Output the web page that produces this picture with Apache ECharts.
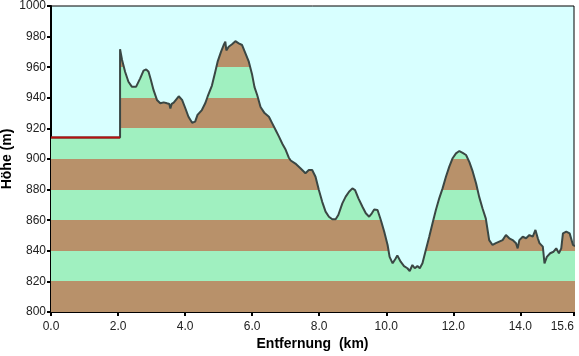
<!DOCTYPE html>
<html>
<head>
<meta charset="utf-8">
<script src="https://cdn.jsdelivr.net/npm/echarts@6/dist/echarts.min.js"></script>
<style>
html,body{margin:0;padding:0;background:#fff;}
#c{width:579px;height:356px;}
</style>
</head>
<body>
<div id="c"></div>
<script>
// Distance (km) and elevation (m) of the profile
const distKm = [0, 2.06, 2.06, 2.12, 2.21, 2.31, 2.41, 2.54, 2.66, 2.76, 2.84, 2.91, 2.98, 3.06, 3.16, 3.26, 3.36, 3.46, 3.53, 3.56, 3.6, 3.66, 3.81, 3.91, 4.01, 4.10, 4.21, 4.30, 4.37, 4.50, 4.60, 4.67, 4.80, 4.90, 4.97, 5.07, 5.15, 5.20, 5.23, 5.30, 5.40, 5.50, 5.60, 5.70, 5.80, 5.90, 6.00, 6.07, 6.15, 6.25, 6.37, 6.50, 6.60, 6.70, 6.80, 6.90, 7.00, 7.09, 7.15, 7.29, 7.44, 7.59, 7.69, 7.79, 7.89, 7.99, 8.09, 8.19, 8.29, 8.39, 8.49, 8.57, 8.69, 8.79, 8.89, 8.99, 9.07, 9.17, 9.29, 9.39, 9.49, 9.57, 9.64, 9.74, 9.84, 9.94, 10.04, 10.10, 10.19, 10.28, 10.33, 10.43, 10.53, 10.63, 10.70, 10.78, 10.85, 10.93, 11.00, 11.08, 11.18, 11.28, 11.38, 11.48, 11.58, 11.68, 11.78, 11.88, 11.98, 12.08, 12.18, 12.28, 12.38, 12.48, 12.58, 12.68, 12.77, 12.87, 12.97, 13.07, 13.17, 13.27, 13.37, 13.47, 13.57, 13.67, 13.77, 13.87, 13.92, 13.97, 14.07, 14.17, 14.27, 14.37, 14.45, 14.52, 14.57, 14.67, 14.72, 14.79, 14.89, 14.99, 15.07, 15.15, 15.22, 15.27, 15.37, 15.47, 15.57, 15.63];
const elevM = [914, 914, 971.7, 964.7, 957, 950.5, 947.3, 947.3, 952.7, 957.7, 958.6, 957, 951.6, 945, 938.6, 936.4, 937, 936.4, 936, 933, 936, 936.8, 941, 938.6, 933, 927.6, 923.7, 924.4, 928.8, 932, 936.4, 940.7, 948, 957, 963.6, 970, 974.5, 976.7, 971, 973.4, 975, 977, 975.6, 974.5, 969, 963.6, 955, 947, 941.8, 934, 930, 927.6, 923.3, 919, 914.6, 910, 906, 901, 899, 897, 894, 890.7, 892.8, 892.8, 888.4, 879.7, 872, 865.6, 862.3, 860.6, 860.6, 863.4, 871, 875.4, 878.6, 880.8, 879.7, 874.3, 868.8, 864.5, 862.3, 864.5, 867, 866.7, 860, 852.5, 843.8, 836, 831.8, 835, 837, 832.9, 830, 828.6, 826.8, 830.7, 828.6, 830, 828.6, 831.8, 840.5, 849, 858, 866.7, 874.3, 880.8, 888.4, 895, 900.5, 903.7, 905.2, 904, 902.6, 898, 891.7, 884, 875.4, 867.8, 861, 847, 843.8, 845, 846, 847, 850.3, 848.2, 847, 845, 841.6, 847, 849.2, 848.2, 850.3, 849.2, 853.6, 848.2, 845, 842.7, 831.8, 836, 838.4, 839.4, 841.6, 838.4, 841.6, 851.4, 852.5, 851.4, 843.8, 843];
// Start segment (no track data) drawn in red
const startKm = [0, 2.06];
const startM = [914, 914];

const yMin = 800, yMax = 1000, yStep = 20;
const xMin = 0, xMax = 15.6, xStep = 2;

const W = 579, H = 356;
const G = {left: 51, right: 5, top: 6, bottom: 44};
const plotTop = G.top, plotBottom = H - G.bottom;

const BROWN = '#b8916a', GREEN = '#a0f0c0';
// banded gradient from top (yMax) downwards; band 800-820 brown, 820-840 green, ...
const range = yMax - yMin;
const stops = [];
for (let v = yMax - yStep; v >= yMin; v -= yStep) {
  const idx = Math.round((v - yMin) / yStep);
  const col = idx % 2 === 0 ? BROWN : GREEN;
  stops.push({offset: (yMax - (v + yStep)) / range, color: col});
  stops.push({offset: (yMax - v) / range, color: col});
}

const profile = distKm.map((d, i) => [d, elevM[i]]);
const startSeg = startKm.map((d, i) => [d, startM[i]]);

const chart = echarts.init(document.getElementById('c'), null, {renderer: 'canvas'});
chart.setOption({
  animation: false,
  backgroundColor: '#ffffff',
  grid: {left: G.left, right: G.right, top: G.top, bottom: G.bottom, show: true,
         outerBoundsMode: 'none', containLabel: false,
         backgroundColor: '#d8ffff', borderColor: '#000', borderWidth: 1},
  xAxis: {
    type: 'value', min: xMin, max: xMax, interval: xStep,
    name: 'Entfernung  (km)', nameLocation: 'middle', nameGap: 25, nameMoveOverlap: false,
    nameTextStyle: {fontFamily: 'Liberation Sans', fontWeight: 'bold', fontSize: 14, color: '#000'},
    axisLine: {show: true, lineStyle: {color: '#000', width: 2}},
    axisTick: {show: true, length: 4, lineStyle: {color: '#000', width: 2}},
    axisLabel: {fontFamily: 'Liberation Sans', fontSize: 12, color: '#222', margin: 9,
      showMaxLabel: true, alignMaxLabel: 'right', hideOverlap: false,
      formatter: v => Number(v).toFixed(1)},
    splitLine: {show: false}
  },
  yAxis: {
    type: 'value', min: yMin, max: yMax, interval: yStep,
    name: 'Höhe (m)', nameLocation: 'middle', nameGap: 37, nameRotate: 90, nameMoveOverlap: false,
    nameTextStyle: {fontFamily: 'Liberation Sans', fontWeight: 'bold', fontSize: 14, color: '#000'},
    axisLine: {show: true, lineStyle: {color: '#000', width: 2}},
    axisTick: {show: true, length: 4, lineStyle: {color: '#000', width: 2}},
    axisLabel: {fontFamily: 'Liberation Sans', fontSize: 12, color: '#222', margin: 5,
      formatter: v => String(v)},
    splitLine: {show: false}
  },
  series: [
    {
      type: 'line', data: profile, showSymbol: false, symbol: 'none',
      lineStyle: {color: '#3a4744', width: 2},
      areaStyle: {origin: 'start', opacity: 1,
        color: {type: 'linear', x: 0, y: plotTop, x2: 0, y2: plotBottom, global: true, colorStops: stops}},
      z: 2
    },
    {
      type: 'line', data: startSeg, showSymbol: false, symbol: 'none',
      lineStyle: {color: '#b81010', width: 2}, z: 3
    }
  ]
});
</script>
</body>
</html>
